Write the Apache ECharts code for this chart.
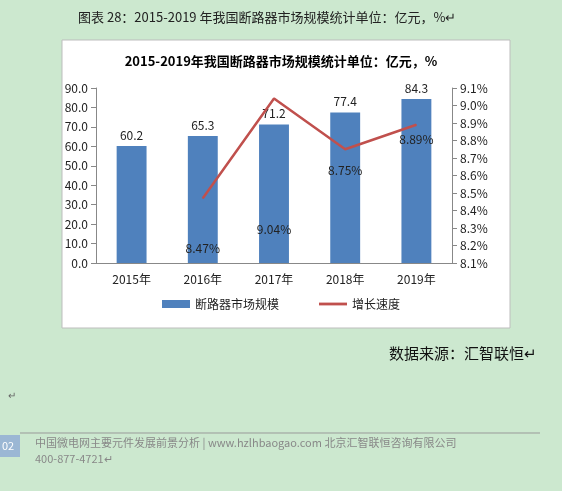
<!DOCTYPE html>
<html><head><meta charset="utf-8">
<script src="https://cdn.jsdelivr.net/npm/echarts@6/dist/echarts.min.js"></script>
<style>html,body{margin:0;padding:0;background:#cce8cf;}#c{width:562px;height:491px;}</style>
</head><body><div id="c"></div>
<script>
const categories = ['2015年','2016年','2017年','2018年','2019年'];
const marketSize = [60.2, 65.3, 71.2, 77.4, 84.3];
const growthRate = [null, 8.47, 9.04, 8.75, 8.89];
const growthLabelOffsets = [0, 39, 119, 10, 3];
const leftTicks = {min: 0, max: 90, interval: 10};
const rightTicks = {min: 8.1, max: 9.1, interval: 0.1};

const chart = echarts.init(document.getElementById('c'));
const F = '"Microsoft YaHei","Noto Sans CJK SC",sans-serif';
chart.setOption({
  backgroundColor: '#cce8cf',
  textStyle: {fontFamily: F},
  graphic: [
    {type:'rect', shape:{x:62,y:40,width:448,height:288}, style:{fill:'#fff',stroke:'#bdbdbd'}, z:-10},
    {type:'text', left:78, top:11, style:{text:'图表 28：2015-2019 年我国断路器市场规模统计单位：亿元，%↵', font:'13px '+F, fill:'#222'}},
    {type:'text', left:389, top:346, style:{text:'数据来源：汇智联恒↵', font:'15px '+F, fill:'#111'}},
    {type:'text', left:8, top:390, style:{text:'↵', font:'10px '+F, fill:'#666'}},
    {type:'line', shape:{x1:20,y1:433,x2:540,y2:433}, style:{stroke:'#999',lineWidth:1}},
    {type:'rect', shape:{x:0,y:435,width:20,height:22}, style:{fill:'#9bb7d4'}},
    {type:'text', left:2, top:440, style:{text:'02', font:'11px '+F, fill:'#fff'}},
    {type:'text', left:35, top:437, style:{text:'中国微电网主要元件发展前景分析 | www.hzlhbaogao.com 北京汇智联恒咨询有限公司', font:'11px '+F, fill:'#888'}},
    {type:'text', left:35, top:453, style:{text:'400-877-4721↵', font:'11px '+F, fill:'#888'}}
  ],
  title: {text:'2015-2019年我国断路器市场规模统计单位：亿元，%', left:'center', top:50,
    textStyle:{fontSize:13, fontWeight:'bold', color:'#000', fontFamily:F}},
  legend: {bottom:176, left:'center', itemGap:40, itemWidth:28, itemHeight:8,
    textStyle:{fontSize:12, color:'#222'},
    data:[{name:'断路器市场规模', icon:'rect'}, {name:'增长速度', icon:'path://M0,0H10V1H0Z'}]},
  grid: {left:96, right:110, top:88, bottom:228},
  xAxis: {type:'category', data:categories, axisTick:{show:false},
    axisLine:{lineStyle:{color:'#888'}}, axisLabel:{color:'#222', fontSize:12, margin:10}},
  yAxis: [
    {type:'value', min:leftTicks.min, max:leftTicks.max, interval:leftTicks.interval,
     axisLine:{show:true, lineStyle:{color:'#888'}}, axisTick:{show:true}, splitLine:{show:false},
     axisLabel:{formatter:v=>v.toFixed(1), color:'#222', fontSize:12}},
    {type:'value', min:rightTicks.min, max:rightTicks.max, interval:rightTicks.interval,
     axisLine:{show:true, lineStyle:{color:'#888'}}, axisTick:{show:true}, splitLine:{show:false},
     axisLabel:{formatter:v=>v.toFixed(1)+'%', color:'#222', fontSize:12}}
  ],
  series: [
    {name:'增长速度', type:'line', yAxisIndex:1, symbol:'circle', symbolSize:1, showSymbol:true, z:5,
     lineStyle:{color:'#c0504d', width:2.5}, itemStyle:{color:'#c0504d'},
     label:{show:true, position:'bottom', color:'#222', fontSize:12, formatter:p=>p.value.toFixed(2)+'%'},
     data: growthRate.map((v,i)=> v==null ? null : {value:v,
       label:{offset:[0, growthLabelOffsets[i]]}})},
    {name:'断路器市场规模', type:'bar', data:marketSize, barWidth:'42%',
     itemStyle:{color:'#4f81bd'},
     label:{show:true, position:'top', color:'#222', fontSize:12, formatter:p=>p.value.toFixed(1)}}
  ]
});
</script></body></html>
